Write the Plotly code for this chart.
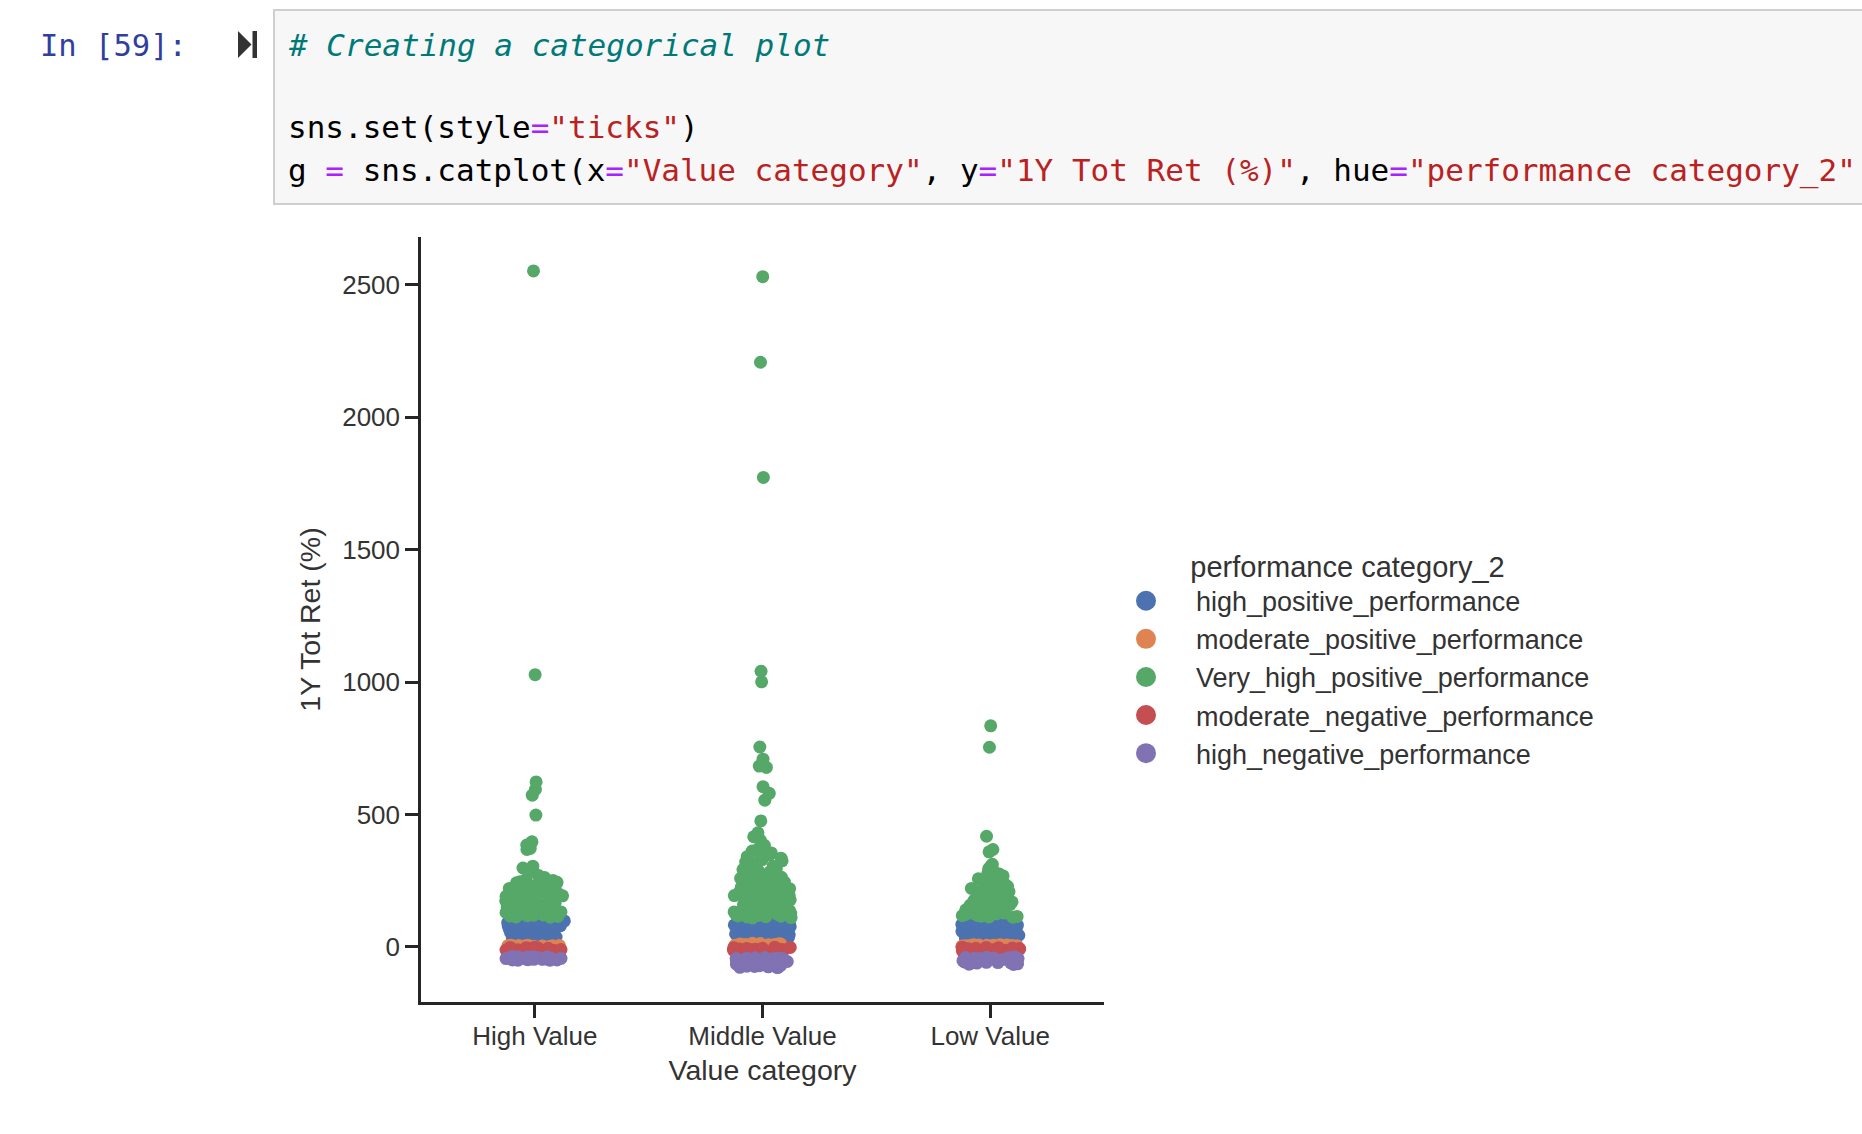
import plotly.graph_objects as go

# ---------------- data ----------------
categories = ["High Value", "Middle Value", "Low Value"]
hue_names = ["high_positive_performance", "moderate_positive_performance",
             "Very_high_positive_performance", "moderate_negative_performance",
             "high_negative_performance"]
hue_colors = ["#4C72B0", "#DD8452", "#55A868", "#C44E52", "#8172B3"]
y_ticks = [0, 500, 1000, 1500, 2000, 2500]

# high_positive_performance
hp_high = [14, 19, 23, 27, 31, 33, 36, 39, 42, 44, 46, 49, 51, 54, 56, 58, 60, 63, 65, 67, 69, 71, 74,
           76, 78, 80, 83, 84, 86, 88, 91, 92, 94, 96, 98, 17, 25, 35, 43, 55, 64, 72, 81, 89, 97,
           11, 21, 29, 37, 45, 48, 52, 57, 61, 66, 70, 75, 79, 82, 87, 90, 93, 95, 99, 100, 34, 40,
           50, 59, 68, 77, 85, 94, 28, 62]
hp_mid = [12, 15, 18, 21, 24, 27, 29, 32, 34, 37, 39, 41, 43, 46, 47, 49, 51, 53, 56, 57, 59, 61, 63,
          66, 67, 69, 71, 73, 75, 78, 79, 81, 83, 85, 87, 89, 91, 93, 95, 97, 99, 16, 26, 35, 44, 52,
          60, 68, 76, 84, 92, 38, 58, 74, 88, 13, 19, 23, 28, 31, 36, 40, 45, 48, 50, 54, 62, 64, 70,
          72, 77, 80, 82, 86, 90, 94, 96, 98, 100, 22, 33, 42, 55, 65, 81]
hp_low = [10, 14, 18, 22, 26, 29, 32, 36, 38, 41, 44, 47, 50, 53, 57, 59, 62, 65, 68, 71, 74, 77, 80,
          83, 86, 89, 92, 95, 20, 31, 43, 55, 67, 79, 88, 24, 37, 49, 61, 73, 12, 16, 21, 25, 28, 34,
          40, 46, 52, 58, 64, 70, 76, 82, 85, 91, 94, 97, 99, 45, 63, 81]

# moderate_positive_performance
mp_high = [0.5, 1.2, 2.0, 2.8, 3.5, 4.1, 4.8, 5.5, 6.2, 1.6, 3.1, 4.5, 0.8, 2.4, 3.8, 5.0, 5.9, 1.9]
mp_mid = [0.4, 1.3, 2.1, 3.0, 3.8, 4.6, 5.5, 6.3, 7.2, 8.1, 9.0, 10.2, 11.5, 12.8, 6.8, 1.7, 2.6,
          4.2, 5.0, 7.7, 8.6, 9.6, 10.8, 12.1, 13.4]
mp_low = [0.3, 1.0, 1.8, 2.5, 3.3, 4.0, 4.8, 5.6, 6.5, 7.4, 8.3, 2.2, 3.7, 5.1, 6.9, 0.7, 1.5, 2.9,
          4.4, 6.0, 7.8]

# Very_high_positive_performance
vh_high = [2553, 1028, 623, 595, 573, 498, 397, 385, 380, 372, 368, 305, 298, 262, 255, 246, 238,
           231, 224, 218, 212, 206, 201, 196, 191, 186, 182, 178, 174, 170, 166, 162, 158, 155, 151,
           148, 145, 142, 139, 136, 133, 130, 127, 124, 121, 118, 115, 112, 227, 193, 168, 149, 135,
           122, 113, 117, 120, 126, 129, 132, 138, 141, 144, 147, 153, 157, 160, 164, 172, 176, 180,
           185, 189, 199, 204, 209, 215, 221, 235, 242, 251, 270, 285, 119, 131, 143, 156, 171, 188,
           203, 216, 244]
vh_mid = [2531, 2208, 1773, 1041, 1001, 755, 709, 683, 678, 605, 580, 554, 476, 431, 416, 403, 384,
          368, 355, 353, 341, 330, 325, 316, 305, 296, 287, 279, 271, 263, 256, 249, 242, 236, 230,
          224, 218, 212, 207, 202, 197, 192, 187, 183, 178, 174, 170, 166, 162, 158, 154, 150, 146,
          143, 139, 136, 132, 129, 126, 122, 119, 116, 113, 110, 247, 221, 195, 176, 161, 148, 134,
          120, 111, 114, 117, 121, 124, 127, 131, 134, 137, 141, 144, 147, 152, 156, 160, 164, 168,
          172, 176, 181, 185, 190, 194, 199, 204, 210, 215, 220, 226, 233, 239, 245, 252, 259, 267,
          275, 283, 292, 301, 310, 320, 335, 348, 362]
vh_low = [835, 754, 418, 368, 359, 312, 305, 296, 280, 268, 257, 247, 238, 233, 229, 221, 213, 206,
          199, 192, 186, 180, 174, 168, 163, 158, 153, 148, 144, 140, 136, 132, 128, 124, 121, 118,
          115, 112, 218, 197, 178, 160, 142, 125, 113, 116, 119, 122, 127, 130, 134, 138, 142, 146,
          151, 155, 160, 165, 170, 176, 182, 189, 195, 202, 209, 216, 224, 231, 242, 252, 262, 275,
          288, 170, 190, 210]

# moderate_negative_performance
mn_high = [-1, -3, -5, -7, -9, -11, -13, -15, -17, -19, -22, -25, -28, -31, -34, -2, -4, -6, -8, -10,
           -12, -14, -16, -18, -20]
mn_mid = [-1, -3, -5, -7, -9, -11, -13, -15, -17, -19, -21, -23, -26, -29, -32, -35, -38, -8, -2, -4,
          -6, -10, -12, -14, -16, -18, -20, -22, -25, -28]
mn_low = [-1, -3, -5, -7, -9, -11, -13, -15, -17, -19, -21, -24, -27, -30, -6, -2, -4, -8, -10, -12,
          -14, -16, -18, -20, -23]

# high_negative_performance
hn_high = [-36, -37, -38, -39, -40, -41, -42, -43, -44, -45, -46, -47, -48, -49, -50, -39, -42, -44,
           -46, -41, -37, -40, -43, -45, -47, -49, -38, -42, -48, -50]
hn_mid = [-40, -42, -44, -46, -48, -50, -52, -54, -56, -58, -60, -62, -64, -66, -68, -70, -72, -74,
          -76, -78, -45, -53, -59, -65, -71, -41, -43, -47, -49, -51, -55, -57, -61, -63, -67, -69,
          -73, -75, -77, -44]
hn_low = [-38, -40, -42, -44, -46, -48, -50, -52, -54, -56, -58, -60, -62, -64, -66, -43, -49, -55,
          -61, -47, -39, -41, -45, -51, -53, -57, -59, -63, -65, -44]

series = [
    [hp_high, hp_mid, hp_low],
    [mp_high, mp_mid, mp_low],
    [vh_high, vh_mid, vh_low],
    [mn_high, mn_mid, mn_low],
    [hn_high, hn_mid, hn_low],
]

# ---------------- layout geometry (pixels) ----------------
W, H = 1862, 1134
L, R, T, B = 421, 1104, 237, 1002
PW, PH = R - L, B - T


def px(x):
    return (x - L) / PW


def py(y):
    return (B - y) / PH


TXT = "#333333"
AX = "#262626"
SANS = "Liberation Sans, Arial, sans-serif"
MONO = "DejaVu Sans Mono, monospace"

fig = go.Figure()

for name, color, groups in zip(hue_names, hue_colors, series):
    xs, ys = [], []
    for cat, vals in zip(categories, groups):
        xs += [cat] * len(vals)
        ys += vals
    fig.add_trace(go.Box(
        x=xs, y=ys, name=name, boxpoints="all", jitter=1, pointpos=0, width=0.26,
        fillcolor="rgba(0,0,0,0)", line=dict(width=0, color="rgba(0,0,0,0)"),
        marker=dict(color=color, size=13, line=dict(width=0), opacity=1),
        hoveron="points", showlegend=False,
    ))

for name, color in zip(hue_names, hue_colors):
    fig.add_trace(go.Scatter(
        x=[None], y=[None], mode="markers", name=name,
        marker=dict(color=color, size=16, line=dict(color=color, width=4)), showlegend=True,
    ))

fig.update_layout(
    width=W, height=H,
    margin=dict(l=L, r=W - R, t=T, b=H - B, autoexpand=False),
    paper_bgcolor="white", plot_bgcolor="white",
    boxmode="overlay",
    font=dict(family=SANS, color=TXT),
    legend=dict(
        x=px(1096), y=py(539), xanchor="left", yanchor="top",
        bgcolor="rgba(0,0,0,0)", borderwidth=0,
        font=dict(family=SANS, size=27, color=TXT),
        itemwidth=90,
        title=dict(text="performance category_2", side="top center",
                   font=dict(family=SANS, size=29, color=TXT)),
    ),
    xaxis=dict(
        type="category", categoryorder="array", categoryarray=categories,
        range=[-0.5, 2.5], showgrid=False, zeroline=False,
        showline=True, linecolor=AX, linewidth=2.5,
        ticks="outside", ticklen=13, tickwidth=2.5, tickcolor=AX,
        ticklabelstandoff=-4,
        tickfont=dict(family=SANS, size=26, color=TXT),
        title=dict(text="Value category", font=dict(family=SANS, size=28.5, color=TXT), standoff=11),
    ),
    yaxis=dict(
        range=[-208, 2681], showgrid=False, zeroline=False,
        showline=True, linecolor=AX, linewidth=2.5,
        ticks="outside", ticklen=13, tickwidth=2.5, tickcolor=AX,
        tickvals=y_ticks, ticktext=[str(v) for v in y_ticks],
        tickfont=dict(family=SANS, size=26, color=TXT),
        title=dict(text="1Y Tot Ret (%)", font=dict(family=SANS, size=28.5, color=TXT), standoff=14),
    ),
)

# ---------------- notebook cell chrome ----------------
shapes = [
    dict(type="rect", xref="paper", yref="paper", x0=px(274), x1=px(1880), y0=py(10), y1=py(204),
         fillcolor="#f7f7f7", line=dict(color="#cfcfcf", width=2), layer="below"),
    dict(type="path", xref="paper", yref="paper",
         path=f"M {px(238)} {py(31)} L {px(251.5)} {py(44.5)} L {px(238)} {py(58)} Z",
         fillcolor="#333333", line=dict(width=0)),
    dict(type="rect", xref="paper", yref="paper", x0=px(252.5), x1=px(257), y0=py(31), y1=py(58),
         fillcolor="#333333", line=dict(width=0)),
]
fig.update_layout(shapes=shapes)

EQ = '<span style="color:#AA22FF">=</span>'


def s(t):
    return f'<span style="color:#BA2121">{t}</span>'


code_lines = [
    (45, '<span style="color:#007979"><i># Creating a categorical plot</i></span>'),
    (127, f'sns.set(style{EQ}{s(chr(34) + "ticks" + chr(34))})'),
    (170, f'g {EQ} sns.catplot(x{EQ}{s(chr(34) + "Value category" + chr(34))}, '
          f'y{EQ}{s(chr(34) + "1Y Tot Ret (%)" + chr(34))}, '
          f'hue{EQ}{s(chr(34) + "performance category_2" + chr(34))}'),
]
annotations = [
    dict(text="In [59]:", x=px(38), y=py(45), xref="paper", yref="paper", xanchor="left",
         yanchor="middle", showarrow=False, font=dict(family=MONO, size=30.5, color="#303F9F")),
]
for yy, txt in code_lines:
    annotations.append(dict(text=txt, x=px(286), y=py(yy), xref="paper", yref="paper",
                            xanchor="left", yanchor="middle", showarrow=False,
                            font=dict(family=MONO, size=31, color="#000000")))
fig.update_layout(annotations=annotations)

fig.write_html("out.html")
